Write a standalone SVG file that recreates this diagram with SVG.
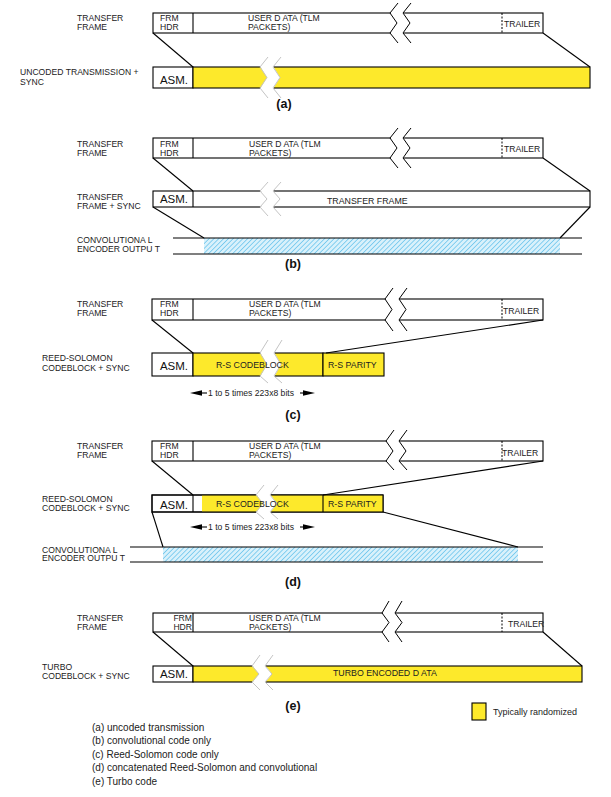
<svg xmlns="http://www.w3.org/2000/svg" width="611" height="797" viewBox="0 0 611 797">
<style>
.box{fill:#fff;stroke:#000;stroke-width:1.1}
.yel{fill:#fde92b;stroke:#000;stroke-width:1.1}
.yf{fill:#fde92b;stroke:none}
.out{fill:none;stroke:#000;stroke-width:1.1}
.ln{stroke:#000;stroke-width:1.1;fill:none}
.dash{stroke:#000;stroke-width:1;stroke-dasharray:2 1.5}
.t{font-family:"Liberation Sans",Arial,sans-serif;font-size:8.6px;fill:#222}
.ti{font-family:"Liberation Sans",Arial,sans-serif;font-size:8.8px;fill:#222}
.asm{font-family:"Liberation Sans",Arial,sans-serif;font-size:11.5px;fill:#111;text-anchor:middle}
.lbl{font-family:"Liberation Sans",Arial,sans-serif;font-size:12.5px;font-weight:bold;fill:#111;text-anchor:middle}
.cap{font-family:"Liberation Sans",Arial,sans-serif;font-size:10px;fill:#222}
.zig{fill:none;stroke:#000;stroke-width:1}
.zigg{fill:none;stroke:#c4c4c4;stroke-width:1}
.gap{fill:#fff;stroke:none}
.hatch{fill:url(#hatch);stroke:none}
</style>
<defs>
<pattern id="hatch" width="3.4" height="3.4" patternUnits="userSpaceOnUse" patternTransform="rotate(45)">
<rect width="3.4" height="3.4" fill="#d9f1fb"/>
<line x1="0" y1="0" x2="0" y2="3.4" stroke="#6fc7ee" stroke-width="1.6"/>
</pattern>
</defs>

<!-- Panel (a) -->
<g id="a-frame">
<rect class="box" x="153" y="13" width="390" height="20"/>
<line class="ln" x1="193" y1="13" x2="193" y2="33"/>
<line class="dash" x1="502" y1="13" x2="502" y2="33"/>
<polygon class="gap" points="390,12 397,23 390,34 403,34 410,23 403,12"/>
<path class="zig" d="M398,3 L390,13 L397,23 L390,33 L398,43"/>
<path class="zig" d="M411,3 L403,13 L410,23 L403,33 L411,43"/>
<text class="t" x="160" y="21">FRM</text>
<text class="t" x="160" y="30">HDR</text>
<text class="t" x="248" y="21">USER D ATA (TLM</text>
<text class="t" x="248" y="30">PACKETS)</text>
<text class="t" x="504" y="26.5">TRAILER</text>
</g>
<g id="a-sync">
<rect class="box" x="153" y="67" width="40" height="21"/>
<rect class="yel" x="193" y="67" width="397" height="21"/>
<polygon class="gap" points="260,66 267,77.5 260,89 273,89 280,77.5 273,66"/>
<path class="zigg" d="M268,57 L260,67 L267,77.5 L260,88 L268,98"/>
<path class="zigg" d="M281,57 L273,67 L280,77.5 L273,88 L281,98"/>
<text class="asm" x="174" y="84">ASM.</text>
</g>
<g id="a-labels">
<text class="t" x="77" y="21">TRANSFER</text>
<text class="t" x="77" y="30">FRAME</text>
<text class="t" x="20" y="75">UNCODED TRANSMISSION +</text>
<text class="t" x="20" y="85">SYNC</text>
<text class="lbl" x="284" y="108">(a)</text>
</g>

<!-- Panel (b) -->
<g id="b-frame">
<rect class="box" x="153" y="138" width="390" height="20"/>
<line class="ln" x1="193" y1="138" x2="193" y2="158"/>
<line class="dash" x1="502" y1="138" x2="502" y2="158"/>
<polygon class="gap" points="390,137 397,148 390,159 403,159 410,148 403,137"/>
<path class="zig" d="M398,128 L390,138 L397,148 L390,158 L398,168"/>
<path class="zig" d="M411,128 L403,138 L410,148 L403,158 L411,168"/>
<text class="t" x="160" y="146.5">FRM</text>
<text class="t" x="160" y="155.5">HDR</text>
<text class="t" x="249" y="146.5">USER D ATA (TLM</text>
<text class="t" x="249" y="155.5">PACKETS)</text>
<text class="t" x="504" y="151.5">TRAILER</text>
</g>
<g id="b-sync">
<rect class="box" x="153" y="191" width="437" height="16"/>
<line class="ln" x1="193" y1="191" x2="193" y2="207"/>
<polygon class="gap" points="260,190 267,199 260,208 273,208 280,199 273,190"/>
<path class="zigg" d="M268,182 L260,191 L267,199 L260,207 L268,216"/>
<path class="zigg" d="M281,182 L273,191 L280,199 L273,207 L281,216"/>
<text class="asm" x="174" y="203">ASM.</text>
<text class="ti" x="327" y="204">TRANSFER FRAME</text>
</g>
<g id="b-conv">
<rect class="hatch" x="204" y="238" width="356" height="16"/>
<line class="ln" x1="173" y1="238" x2="582" y2="238"/>
<line class="ln" x1="173" y1="254" x2="582" y2="254"/>
</g>
<g id="b-labels">
<text class="t" x="77" y="146.5">TRANSFER</text>
<text class="t" x="77" y="155.5">FRAME</text>
<text class="t" x="77" y="200">TRANSFER</text>
<text class="t" x="77" y="208.5">FRAME + SYNC</text>
<text class="t" x="77" y="243">CONVOLUTIONA L</text>
<text class="t" x="77" y="251.5">ENCODER OUTPU T</text>
<text class="lbl" x="293" y="268">(b)</text>
</g>

<!-- Panel (c) -->
<g id="c-frame">
<rect class="box" x="152" y="299" width="391" height="21"/>
<line class="ln" x1="193" y1="299" x2="193" y2="320"/>
<line class="dash" x1="502" y1="299" x2="502" y2="320"/>
<polygon class="gap" points="385,298 392,309.5 385,321 399,321 406,309.5 399,298"/>
<path class="zig" d="M393,288 L385,299 L392,309.5 L385,320 L393,331"/>
<path class="zig" d="M407,288 L399,299 L406,309.5 L399,320 L407,331"/>
<text class="t" x="160" y="307">FRM</text>
<text class="t" x="160" y="316">HDR</text>
<text class="t" x="249" y="307">USER D ATA (TLM</text>
<text class="t" x="249" y="316">PACKETS)</text>
<text class="t" x="503" y="314">TRAILER</text>
</g>
<g id="c-sync">
<rect class="box" x="152" y="353" width="41" height="23"/>
<rect class="yel" x="193" y="353" width="130" height="23"/>
<rect class="yel" x="323" y="353" width="61" height="23"/>
<polygon class="gap" points="260,352 267,364.5 260,377 274,377 281,364.5 274,352"/>
<path class="zigg" d="M268,340 L260,353 L267,364.5 L260,376 L268,383"/>
<path class="zigg" d="M282,340 L274,353 L281,364.5 L274,376 L282,383"/>
<text class="asm" x="174" y="370">ASM.</text>
<text class="ti" x="216" y="368">R-S CODEBLOCK</text>
<text class="ti" x="328" y="367.5">R-S PARITY</text>
</g>
<g id="c-span">
<line class="ln" x1="198" y1="393" x2="207" y2="393"/>
<polygon points="190,393 202,390.3 202,395.7" fill="#000"/>
<text class="t" x="208" y="396">1 to 5 times 223x8 bits</text>
<line class="ln" x1="300" y1="393" x2="309" y2="393"/>
<polygon points="315,393 303,390.3 303,395.7" fill="#000"/>
</g>
<g id="c-labels">
<text class="t" x="77" y="307">TRANSFER</text>
<text class="t" x="77" y="316">FRAME</text>
<text class="t" x="42" y="361">REED-SOLOMON</text>
<text class="t" x="42" y="371">CODEBLOCK + SYNC</text>
<text class="lbl" x="293" y="419">(c)</text>
</g>

<!-- Panel (d) -->
<g id="d-frame">
<rect class="box" x="152" y="441" width="391" height="20"/>
<line class="ln" x1="193" y1="441" x2="193" y2="461"/>
<line class="dash" x1="502" y1="441" x2="502" y2="461"/>
<polygon class="gap" points="386,440 393,451 386,462 399,462 406,451 399,440"/>
<path class="zig" d="M394,430 L386,441 L393,451 L386,461 L394,470"/>
<path class="zig" d="M407,430 L399,441 L406,451 L399,461 L407,470"/>
<text class="t" x="160" y="449">FRM</text>
<text class="t" x="160" y="458">HDR</text>
<text class="t" x="249" y="449">USER D ATA (TLM</text>
<text class="t" x="249" y="458">PACKETS)</text>
<text class="t" x="502" y="456">TRAILER</text>
</g>
<g id="d-sync">
<rect class="box" x="152" y="495" width="231" height="17"/>
<rect class="yf" x="202" y="495" width="181" height="17"/>
<rect class="out" x="152" y="495" width="231" height="17"/>
<line class="ln" x1="193" y1="495" x2="193" y2="512"/>
<line class="ln" x1="323" y1="495" x2="323" y2="512"/>
<polygon class="gap" points="256,494 263,503.5 256,513 270,513 277,503.5 270,494"/>
<path class="zigg" d="M264,485 L256,495 L263,503.5 L256,512 L264,519"/>
<path class="zigg" d="M278,485 L270,495 L277,503.5 L270,512 L278,519"/>
<text class="asm" x="174" y="509">ASM.</text>
<text class="ti" x="216" y="506.5">R-S CODEBLOCK</text>
<text class="ti" x="328" y="506.5">R-S PARITY</text>
</g>
<g id="d-span">
<line class="ln" x1="198" y1="527" x2="207" y2="527"/>
<polygon points="190,527 202,524.3 202,529.7" fill="#000"/>
<text class="t" x="208" y="530">1 to 5 times 223x8 bits</text>
<line class="ln" x1="300" y1="527" x2="309" y2="527"/>
<polygon points="315,527 303,524.3 303,529.7" fill="#000"/>
</g>
<g id="d-conv">
<rect class="hatch" x="163" y="547" width="355" height="15"/>
<line class="ln" x1="130" y1="547" x2="543" y2="547"/>
<line class="ln" x1="130" y1="562" x2="543" y2="562"/>
</g>
<g id="d-labels">
<text class="t" x="77" y="449">TRANSFER</text>
<text class="t" x="77" y="458">FRAME</text>
<text class="t" x="42" y="502">REED-SOLOMON</text>
<text class="t" x="42" y="511">CODEBLOCK + SYNC</text>
<text class="t" x="42" y="552.5">CONVOLUTIONA L</text>
<text class="t" x="42" y="561">ENCODER OUTPU T</text>
<text class="lbl" x="293" y="586">(d)</text>
</g>

<!-- Panel (e) -->
<g id="e-frame">
<rect class="box" x="153" y="613" width="390" height="19"/>
<line class="ln" x1="193" y1="613" x2="193" y2="632"/>
<line class="dash" x1="502" y1="613" x2="502" y2="632"/>
<polygon class="gap" points="382,612 389,622.5 382,633 395,633 402,622.5 395,612"/>
<path class="zig" d="M389,601 L382,613 L389,622.5 L382,632 L389,642"/>
<path class="zig" d="M402,601 L395,613 L402,622.5 L395,632 L402,642"/>
<text class="t" x="192" y="621" text-anchor="end">FRM</text>
<text class="t" x="192" y="630" text-anchor="end">HDR</text>
<text class="t" x="249" y="621">USER D ATA (TLM</text>
<text class="t" x="249" y="630">PACKETS)</text>
<text class="t" x="508" y="627">TRAILER</text>
</g>
<g id="e-sync">
<rect class="box" x="153" y="666" width="40" height="16"/>
<rect class="yel" x="193" y="666" width="389" height="16"/>
<polygon class="gap" points="252,665 259,674 252,683 265,683 272,674 265,665"/>
<path class="zigg" d="M260,655 L252,666 L259,674 L252,682 L260,690"/>
<path class="zigg" d="M273,655 L265,666 L272,674 L265,682 L273,690"/>
<text class="asm" x="174" y="677.5">ASM.</text>
<text class="ti" x="333" y="676">TURBO ENCODED D ATA</text>
</g>
<g id="e-labels">
<text class="t" x="77" y="621">TRANSFER</text>
<text class="t" x="77" y="630">FRAME</text>
<text class="t" x="42" y="669.5">TURBO</text>
<text class="t" x="42" y="679">CODEBLOCK + SYNC</text>
<text class="lbl" x="293" y="710">(e)</text>
</g>

<!-- Connectors -->
<g id="connectors">
<line class="ln" x1="153" y1="33" x2="193" y2="67"/>
<line class="ln" x1="543" y1="33" x2="590" y2="67"/>
<line class="ln" x1="153" y1="158" x2="193" y2="191"/>
<line class="ln" x1="543" y1="158" x2="590" y2="191"/>
<line class="ln" x1="153" y1="207" x2="204" y2="238"/>
<line class="ln" x1="590" y1="207" x2="560" y2="238"/>
<line class="ln" x1="152" y1="320" x2="193" y2="353"/>
<line class="ln" x1="543" y1="320" x2="326" y2="353"/>
<line class="ln" x1="152" y1="461" x2="193" y2="495"/>
<line class="ln" x1="543" y1="461" x2="323" y2="495"/>
<line class="ln" x1="152" y1="512" x2="163" y2="547"/>
<line class="ln" x1="383" y1="512" x2="518" y2="547"/>
<line class="ln" x1="153" y1="632" x2="193" y2="666"/>
<line class="ln" x1="543" y1="632" x2="582" y2="666"/>
</g>

<!-- Legend -->
<g id="legend">
<rect class="yel" x="472" y="703" width="14" height="17"/>
<text class="t" x="493" y="714.5" style="font-size:9px">Typically randomized</text>
</g>
<g id="caption">
<text class="cap" x="92" y="730.5">(a) uncoded transmission</text>
<text class="cap" x="92" y="744">(b) convolutional code only</text>
<text class="cap" x="92" y="757.5">(c) Reed-Solomon code only</text>
<text class="cap" x="92" y="771">(d) concatenated Reed-Solomon and convolutional</text>
<text class="cap" x="92" y="784.5">(e) Turbo code</text>
</g>
</svg>
